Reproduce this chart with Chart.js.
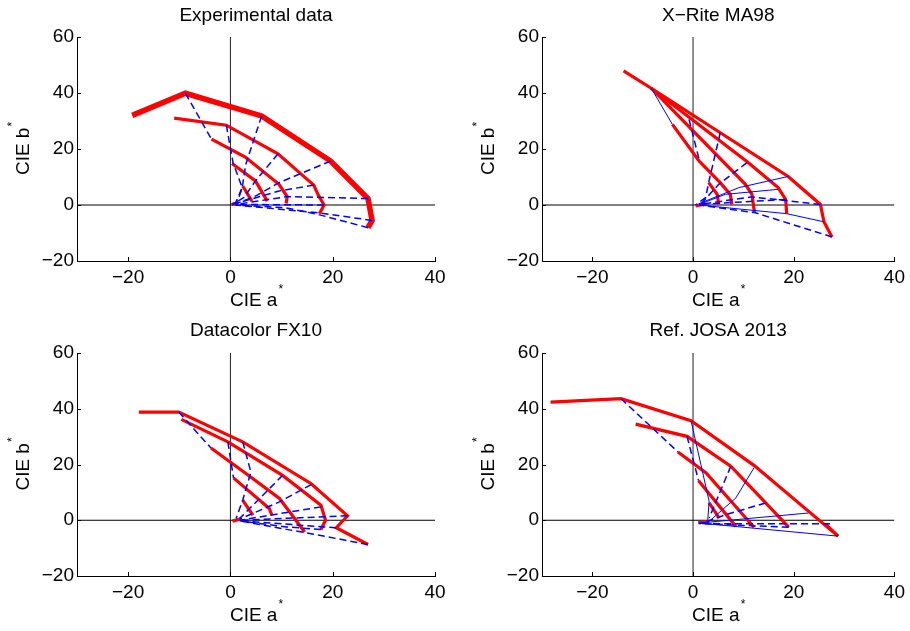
<!DOCTYPE html>
<html>
<head>
<meta charset="utf-8">
<script src="https://cdn.jsdelivr.net/npm/chart.js@4.4.1/dist/chart.umd.min.js"></script>
<style>
    body { margin: 0; background: #fff; width: 910px; height: 631px; position: relative; overflow: hidden; }
    canvas { position: absolute; }
</style>
</head>
<body>
<canvas id="expChart" width="455" height="315" style="left:0;top:0"></canvas>
<canvas id="xriteChart" width="455" height="315" style="left:455px;top:0"></canvas>
<canvas id="dcChart" width="455" height="315" style="left:0;top:315px"></canvas>
<canvas id="josaChart" width="455" height="315" style="left:455px;top:315px"></canvas>
<script>
// axis ticks shared by all four panels
const xTicks = [-20, 0, 20, 40];
const yTicks = [-20, 0, 20, 40, 60];

// Experimental data  (each curve = list of [a*, b*])
const expOuter = [[-19.2,32.0],[-8.8,39.9],[6.1,31.8],[19.6,15.7],[26.9,2.3],[27.7,-5.5],[26.9,-8.1]];
const expRed = [
    [[-11.0,31.0],[-0.8,28.5],[9.3,18.3],[16.3,7.1],[17.1,3.8],[18.3,0.0],[17.4,-3.1]],
    [[-3.7,23.5],[2.9,17.1],[9.5,7.4],[11.1,3.0],[10.9,0.5]],
    [[0.3,14.8],[4.9,8.6],[7.2,1.4]],
    [[2.4,6.8],[4.2,1.4]],
    [[0.2,0.2],[1.5,0.9]]
];
const expDash = [
    [[-8.8,39.9],[-3.7,23.5]],
    [[-0.8,28.5],[0.5,15.2],[2.3,6.2],[1.0,0.8],[0,0]],
    [[6.1,31.8],[3.0,14.5],[2.3,6.2],[1.3,0.8]],
    [[9.3,18.3],[4.9,8.6],[2.6,2.6],[0.3,0.2]],
    [[19.6,15.7],[9.5,8.0],[4.9,3.2],[0.7,0.2]],
    [[16.3,7.1],[9.5,5.0],[1.0,0.5]],
    [[26.9,2.3],[11.1,3.0],[1.0,0.2]],
    [[18.3,0.0],[1.0,0.2]],
    [[27.7,-5.5],[17.2,-2.8],[1.0,0.0]],
    [[26.9,-8.1],[17.2,-3.4],[10.8,-1.0],[1.0,0.0]]
];
const expThin = [];

// X-Rite MA98
const xriteRed = [
    [[-13.8,47.9],[-8.3,41.7],[18.9,10.2],[25.3,0.2],[26.0,-6.0],[27.6,-11.4]],
    [[-8.3,41.7],[10.7,15.5],[16.9,6.2],[18.4,2.0],[18.6,-3.1]],
    [[-8.3,41.7],[10.4,7.4],[11.7,3.8],[12.2,-2.7]],
    [[-4.1,28.8],[1.2,15.7],[5.4,8.0],[7.4,3.8],[7.7,0.2]],
    [[3.1,8.0],[4.8,3.8],[5.1,0.2]],
    [[0.5,-0.3],[2.5,0.5]]
];
const xriteDash = [
    [[-0.8,30.6],[1.2,16.3]],
    [[5.4,25.8],[3.1,8.0],[2.5,2.6],[0.5,0]],
    [[10.7,15.1],[5.1,7.4],[1.8,0.8]],
    [[25.3,0.2],[11.7,2.9],[1.2,0.2]],
    [[18.4,2.0],[1.2,0.2]],
    [[27.6,-11.4],[12.2,-2.7],[1.2,0]]
];
const xriteThin = [
    [[-8.3,41.7],[-4.1,28.8]],
    [[18.9,10.2],[9.1,6.2],[1.2,0.5]],
    [[16.9,5.6],[6.4,3.8],[1.2,0.2]],
    [[26.0,-6.0],[18.6,-3.1],[1.2,0]]
];

// Datacolor FX10
const dcRed = [
    [[-17.9,38.8],[-10.1,38.8],[2.4,28.1],[15.8,13.1],[22.9,1.6],[20.7,-2.7],[26.9,-8.7]],
    [[-9.6,36.2],[-0.5,28.1],[10.2,16.1],[17.7,5.4],[18.6,0],[17.7,-3.3]],
    [[-3.8,25.9],[3.1,16.7],[9.6,7.8],[12.8,0],[14.5,-4.2]],
    [[0.6,15.2],[7.6,4.2],[8.1,1.8]],
    [[2.4,7.2],[4.4,1.8]],
    [[0.4,-0.3],[2.0,0.5]]
];
const dcDash = [
    [[-10.1,38.8],[-3.8,25.9]],
    [[-0.5,28.1],[0.6,15.2]],
    [[2.4,28.1],[4.0,17.3],[2.4,7.2],[1.1,0.6]],
    [[10.2,16.1],[5.7,7.8],[1.8,0.6]],
    [[15.8,12.8],[9.6,6.6],[1.8,0.4]],
    [[17.7,4.8],[1.8,0]],
    [[22.9,1.6],[1.8,0]],
    [[20.7,-2.7],[1.8,-0.2]],
    [[17.7,-3.3],[10.9,-2.4],[1.8,-0.2]],
    [[26.9,-8.7],[17.4,-5.4],[1.8,-0.2]]
];
const dcThin = [];

// Ref. JOSA 2013
const josaRed = [
    [[-28.3,42.4],[-14.3,43.6],[-0.4,35.7],[12.1,19.7],[28.8,-5.7]],
    [[26.3,-1.3],[28.8,-5.7]],
    [[-11.4,34.5],[-1.2,30.1],[7.5,19.4],[19.0,-2.5]],
    [[-3.0,24.5],[2.6,17.0],[12.1,-2.5]],
    [[1.1,14.2],[8.5,-2.2]],
    [[3.2,6.2],[5.2,0.8]],
    [[1.0,-0.9],[3.2,-0.4]]
];
const josaDash = [
    [[-14.3,43.6],[-3.0,24.5]],
    [[-1.2,30.1],[1.1,14.2]],
    [[7.5,19.4],[3.2,0.8]],
    [[14.4,6.2],[6.5,2.0],[1.9,-1.0]],
    [[27.2,-1.3],[1.2,-1.2]],
    [[19.0,-2.5],[1.2,-1.2]]
];
const josaThin = [
    [[-0.4,35.7],[3.2,6.8],[2.9,-0.4]],
    [[12.1,18.8],[8.5,8.0],[3.2,-0.4]],
    [[22.9,2.6],[1.2,-1.0]],
    [[28.8,-5.7],[1.2,-1.0]]
];

const FONT = '"Liberation Sans", Arial, Helvetica, sans-serif';
const FSIZE = 19;

function toPts(arr) {
    return arr.map(p => ({ x: p[0], y: p[1] }));
}

function fmt(v) {
    return v < 0 ? '\u2212' + Math.abs(v) : String(v);
}

// titles, axis labels with superscript star, and inward tick marks
const panelText = {
    id: 'panelText',
    afterDraw(chart, args, opts) {
        const ctx = chart.ctx;
        const area = chart.chartArea;
        const x = chart.scales.x;
        const y = chart.scales.y;
        ctx.save();
        ctx.strokeStyle = '#000';
        ctx.lineWidth = 1;
        xTicks.forEach(v => {
            const px = Math.round(x.getPixelForValue(v)) + 0.5;
            ctx.beginPath();
            ctx.moveTo(px, area.bottom);
            ctx.lineTo(px, area.bottom - 4);
            ctx.stroke();
        });
        yTicks.forEach(v => {
            const py = Math.round(y.getPixelForValue(v)) + 0.5;
            ctx.beginPath();
            ctx.moveTo(area.left, py);
            ctx.lineTo(area.left + 4, py);
            ctx.stroke();
        });

        ctx.fillStyle = '#000';
        ctx.textBaseline = 'middle';
        const cx = (area.left + area.right) / 2;
        const cy = (area.top + area.bottom) / 2;
        const big = FSIZE + 'px ' + FONT;
        const small = '12px ' + FONT;

        ctx.font = big;
        ctx.textAlign = 'center';
        ctx.fillText(opts.title, cx, 15.5);

        // x label
        ctx.textAlign = 'left';
        ctx.font = big;
        const w1 = ctx.measureText('CIE a').width;
        ctx.font = small;
        const w2 = ctx.measureText('*').width;
        let sx = cx - (w1 + w2) / 2;
        ctx.font = big;
        ctx.fillText('CIE a', sx, area.bottom + 40);
        ctx.font = small;
        ctx.fillText('*', sx + w1 + 1, area.bottom + 29);

        // y label (rotated)
        ctx.translate(area.left - 53, cy);
        ctx.rotate(-Math.PI / 2);
        ctx.font = big;
        const h1 = ctx.measureText('CIE b').width;
        sx = -(h1 + w2) / 2;
        ctx.fillText('CIE b', sx, 0);
        ctx.font = small;
        ctx.fillText('*', sx + h1 + 1, -11);
        ctx.restore();
    }
};

function buildChart(id, title, outer, red, dash, thin, leftWidth, pad) {
    const datasets = [];
    dash.forEach(line => datasets.push({
        data: toPts(line), borderColor: '#0000ff', borderWidth: 1.5, borderDash: [7, 4]
    }));
    thin.forEach(line => datasets.push({
        data: toPts(line), borderColor: '#0000ff', borderWidth: 1
    }));
    if (outer) {
        datasets.push({ data: toPts(outer), borderColor: '#ff0000', borderWidth: 5.5 });
    }
    red.forEach(line => datasets.push({
        data: toPts(line), borderColor: '#ff0000', borderWidth: 3.2
    }));
    // zero lines
    datasets.push({ data: [{x: -30, y: 0}, {x: 40, y: 0}], borderColor: '#000', borderWidth: 1 });
    datasets.push({ data: [{x: 0, y: -20}, {x: 0, y: 60}], borderColor: '#222', borderWidth: 1 });

    datasets.forEach(d => {
        d.showLine = true;
        d.pointRadius = 0;
        d.fill = false;
        d.tension = 0;
    });

    return new Chart(document.getElementById(id), {
        type: 'scatter',
        data: { datasets: datasets },
        options: {
            responsive: false,
            animation: false,
            layout: { padding: pad },
            plugins: {
                legend: { display: false },
                tooltip: { enabled: false },
                panelText: { title: title }
            },
            scales: {
                x: {
                    type: 'linear',
                    min: -30,
                    max: 40,
                    afterBuildTicks: s => { s.ticks = xTicks.map(v => ({ value: v })); },
                    afterFit: s => { s.height = 54; },
                    grid: { drawOnChartArea: false, drawTicks: false },
                    border: { color: '#000', width: 1 },
                    ticks: {
                        color: '#000',
                        padding: 5,
                        maxRotation: 0,
                        font: { family: FONT, size: FSIZE },
                        callback: v => fmt(v)
                    }
                },
                y: {
                    type: 'linear',
                    min: -20,
                    max: 60,
                    afterBuildTicks: s => { s.ticks = yTicks.map(v => ({ value: v })); },
                    afterFit: s => { s.width = leftWidth; },
                    grid: { drawOnChartArea: false, drawTicks: false },
                    border: { color: '#000', width: 1 },
                    ticks: {
                        color: '#000',
                        padding: 3,
                        font: { family: FONT, size: FSIZE },
                        callback: v => fmt(v)
                    }
                }
            }
        },
        plugins: [panelText]
    });
}

document.addEventListener('DOMContentLoaded', function() {
    buildChart('expChart', 'Experimental data', expOuter, expRed, expDash, expThin, 77, { top: 37, right: 20, left: 0, bottom: 0 });
    buildChart('xriteChart', 'X\u2212Rite MA98', null, xriteRed, xriteDash, xriteThin, 87, { top: 37, right: 13, left: 0, bottom: 0 });
    buildChart('dcChart', 'Datacolor FX10', null, dcRed, dcDash, dcThin, 77, { top: 38, right: 20, left: 0, bottom: 0 });
    buildChart('josaChart', 'Ref. JOSA 2013', null, josaRed, josaDash, josaThin, 87, { top: 38, right: 13, left: 0, bottom: 0 });
});
</script>
</body>
</html>
